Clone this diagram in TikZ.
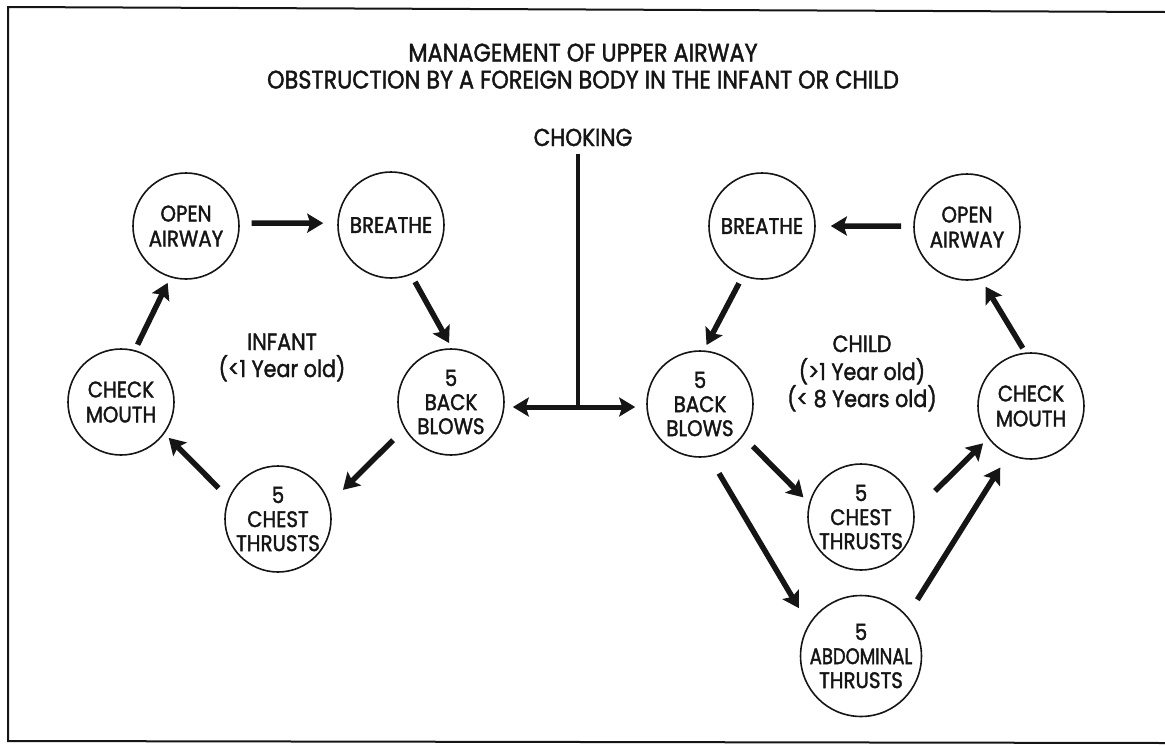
\documentclass[tikz,border=0pt]{standalone}
\usepackage{fontspec}
\setmainfont{Poppins}[FakeStretch=0.88,FakeBold=1.6]
\usetikzlibrary{arrows.meta}
\definecolor{chokeInk}{HTML}{151515}
\tikzset{
  every picture/.style={font=\fontsize{22.5}{25}\selectfont, text=chokeInk},
  choke step/.style={circle, draw=chokeInk, line width=1.6pt, minimum size=106pt,
    inner sep=0pt, align=center, fill=white},
  choke small/.style={font=\fontsize{22.5}{24}\selectfont},
  choke arrow/.style={-{Stealth[length=16pt,width=19pt,inset=3pt]},
    draw=chokeInk, line width=5.5pt},
  choke both/.style={{Stealth[length=16pt,width=19pt,inset=3pt]}-{Stealth[length=16pt,width=19pt,inset=3pt]},
    draw=chokeInk, line width=5pt},
  choke stem/.style={draw=chokeInk, line width=3.5pt},
  choke frame/.style={draw=chokeInk, line width=2pt},
  choke head/.style={anchor=base, font=\fontsize{25.4}{26}\selectfont},
  choke label/.style={anchor=base, font=\fontsize{23.5}{26}\selectfont}
}

\begin{document}
\begin{tikzpicture}[x=1pt,y=-1pt]
  \useasboundingbox (0,0) rectangle (1165,745);
  \draw[choke frame] (1165,12) -- (8,7) -- (8,741) -- (1165,743);

  % heading
  \node[choke head] (headA) at (583,61.5) {MANAGEMENT OF UPPER AIRWAY};
  \node[choke head] (headB) at (583,88.5) {OBSTRUCTION BY A FOREIGN BODY IN THE INFANT OR CHILD};
  \node[choke head, font=\fontsize{24.5}{26}\selectfont] (choke) at (583,146) {CHOKING};

  % infant cycle
  \node[choke step] (lopen) at (186,226) {OPEN\\AIRWAY};
  \node[choke step] (lbreathe) at (391,225) {BREATHE};
  \node[choke step, choke small] (lback) at (451,402) {5\\BACK\\BLOWS};
  \node[choke step, choke small] (lchest) at (278,519) {5\\CHEST\\THRUSTS};
  \node[choke step] (lmouth) at (121,402) {CHECK\\MOUTH};
  \node[choke label] (infant) at (282,350) {INFANT};
  \node[choke label] (infantAge) at (282,377) {(<1 Year old)};

  % child cycle
  \node[choke step] (ropen) at (967,227) {OPEN\\AIRWAY};
  \node[choke step] (rbreathe) at (762,226) {BREATHE};
  \node[choke step, choke small] (rback) at (700,404) {5\\BACK\\BLOWS};
  \node[choke step, choke small] (rchest) at (861,517) {5\\CHEST\\THRUSTS};
  \node[choke step, choke small] (rabdo) at (861,656) {5\\{\addfontfeatures{FakeStretch=0.8}ABDOMINAL}\\THRUSTS};
  \node[choke step] (rmouth) at (1031,406) {CHECK\\MOUTH};
  \node[choke label] (child) at (862,352) {CHILD};
  \node[choke label] (childMin) at (862,380) {(>1 Year old)};
  \node[choke label] (childMax) at (862,407) {(< 8 Years old)};

  % choking stem
  \coordinate (junction) at (578,407);
  \draw[choke stem, shorten <=4pt] (junction |- choke.south) -- (junction);
  \draw[choke both, shorten <=8pt, shorten >=11pt] (lback.east |- junction) -- (rback.west |- junction);

  % infant arrows
  \draw[choke arrow, shorten <=12pt, shorten >=14pt] (lopen.3) -- (lbreathe.178);
  \draw[choke arrow, shorten <=8pt, shorten >=6pt] (lbreathe.-68) -- (lback.89);
  \draw[choke arrow, shorten <=16pt, shorten >=19pt] (lback.210) -- (lchest.17);
  \draw[choke arrow, shorten <=14pt, shorten >=6pt] (lchest.157) -- (lmouth.-36);
  \draw[choke arrow, shorten <=6pt, shorten >=6pt] (lmouth.75) -- (lopen.-107);

  % child arrows
  \draw[choke arrow, shorten <=12pt, shorten >=15pt] (ropen.179) -- (rbreathe.0);
  \draw[choke arrow, shorten <=8pt, shorten >=6pt] (rbreathe.-111) -- (rback.86);
  \draw[choke arrow, shorten <=14pt, shorten >=8pt] (rback.-37) -- (rchest.165);
  \draw[choke arrow, shorten <=19pt, shorten >=19pt] (rback.-80) -- (rabdo.149);
  \draw[choke arrow, shorten <=29pt, shorten >=7pt] (rchest.6) -- (rmouth.-143);
  \draw[choke arrow, shorten <=19pt, shorten >=15pt] (rabdo.41) -- (rmouth.-115);
  \draw[choke arrow, shorten <=5pt, shorten >=9pt] (rmouth.96) -- (ropen.-75);
\end{tikzpicture}
\end{document}
